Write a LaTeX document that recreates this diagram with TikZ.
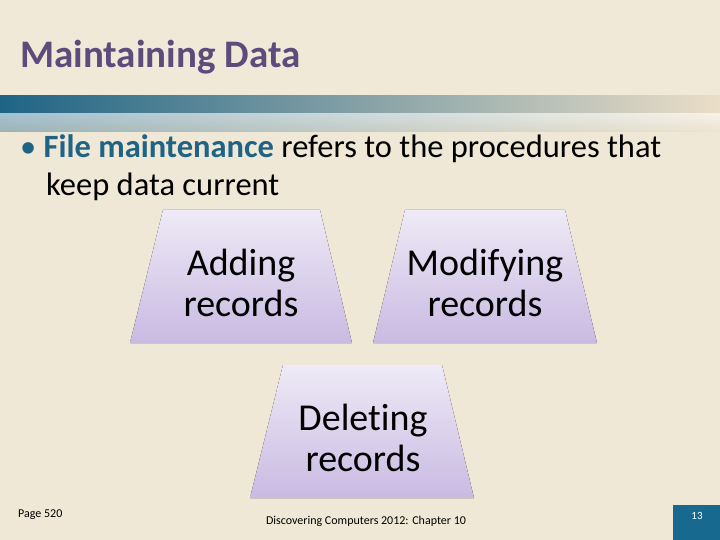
\documentclass[tikz,border=0pt]{standalone}
\usepackage{fontspec}
\setmainfont[Ligatures=NoCommon]{Carlito}
\begin{document}
\begin{tikzpicture}[x=1pt,y=-1pt,
  trap/.style={top color=lav1,bottom color=lav2,draw=none},
  lbl/.style={align=center,font=\fontsize{38}{41}\selectfont,text=black}]
\definecolor{bg}{HTML}{EFE8D6}
\definecolor{lav1}{HTML}{EEEAF6}
\definecolor{lav2}{HTML}{C9BAE2}
\definecolor{titlec}{HTML}{5E4B7C}
\definecolor{teal}{HTML}{1F6485}
\definecolor{boxblue}{HTML}{17698F}
\useasboundingbox (0,0) rectangle (720,540);
\fill[bg] (0,0) rectangle (720,540);
\fill[bg!95!white] (0,0) rectangle (720,96);
\shade[left color=teal,right color=bg!90!brown] (0,96) rectangle (720,132);
\shade[top color=teal!0,bottom color=bg,opacity=0.6] (0,114) rectangle (720,132);
\node[anchor=west,inner sep=0,font=\bfseries\fontsize{39}{44}\selectfont,text=titlec] (title) at (20,57) {Maintaining Data};
\node[anchor=north west,inner sep=0,align=left,font=\fontsize{32.5}{38}\selectfont,text=black] (bullet) at (20,134)
 {\textcolor{teal}{•} \textcolor{teal}{\bfseries File maintenance} refers to the procedures that\\\hspace*{0.8em}keep data current};
\fill[trap] (163,210) -- (320,210) -- (352,343) -- (130,343) -- cycle;
\fill[trap] (405,210) -- (565,210) -- (597,343) -- (373,343) -- cycle;
\fill[trap] (283,365) -- (442,365) -- (474,498) -- (250,498) -- cycle;
\node[lbl] (add) at (241,283) {Adding\\records};
\node[lbl] (mod) at (485,283) {Modifying\\records};
\node[lbl] (del) at (363,438) {Deleting\\records};
\node[anchor=west,inner sep=0,font=\fontsize{12}{14}\selectfont] (page) at (18,515) {Page 520};
\node[font=\fontsize{12}{14}\selectfont] (foot) at (366,521) {Discovering Computers 2012: Chapter 10};
\fill[boxblue] (673,505) rectangle (720,540);
\node[text=white,font=\fontsize{11}{13}\selectfont] (num) at (697,516) {13};
\end{tikzpicture}
\end{document}
